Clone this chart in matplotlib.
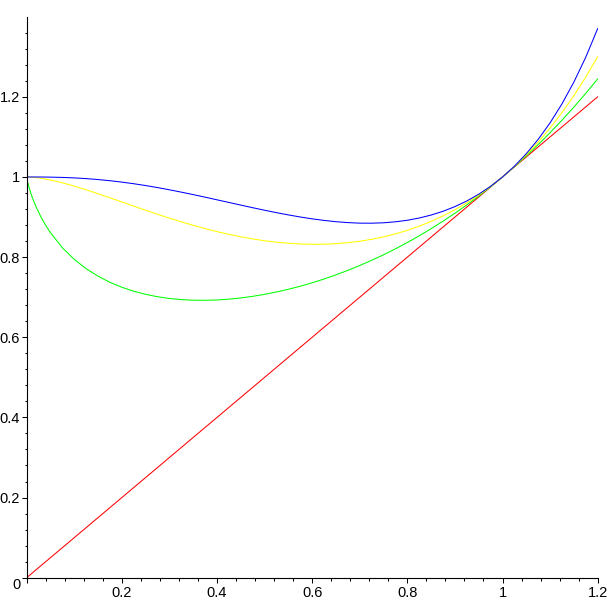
import matplotlib
matplotlib.use("Agg")
import matplotlib.pyplot as plt
from matplotlib.ticker import MultipleLocator, FixedLocator
import matplotlib.transforms as mtransforms

# sample positions
x_vals = [0.0, 0.001, 0.003, 0.005, 0.0075, 0.01, 0.015, 0.02, 0.03, 0.04, 0.05, 0.075,
          0.1, 0.125, 0.15, 0.175, 0.2, 0.225, 0.25, 0.275, 0.3, 0.325, 0.35, 0.375,
          0.4, 0.425, 0.45, 0.475, 0.5, 0.525, 0.55, 0.575, 0.6, 0.625, 0.65, 0.675,
          0.7, 0.725, 0.75, 0.775, 0.8, 0.825, 0.85, 0.875, 0.9, 0.925, 0.95, 0.975,
          1.0, 1.025, 1.05, 1.075, 1.1, 1.125, 1.15, 1.175, 1.2]
# red line (y = x)
red_y = list(x_vals)
# green curve
green_y = [1.0, 0.99312, 0.98272, 0.97386, 0.96397, 0.9550, 0.93895, 0.9247, 0.9001,
           0.87919, 0.8609, 0.82343, 0.7943, 0.77107, 0.7524, 0.73710, 0.7248, 0.71488,
           0.7071, 0.70116, 0.6968, 0.69401, 0.6925, 0.69225, 0.6931, 0.69513, 0.6981,
           0.70215, 0.7071, 0.71299, 0.7198, 0.72746, 0.7360, 0.74546, 0.7558, 0.76698,
           0.7791, 0.79204, 0.8059, 0.82074, 0.8365, 0.85325, 0.8710, 0.88973, 0.9095,
           0.93042, 0.9524, 0.97562, 1.0, 1.02563, 1.0526, 1.08085, 1.1105, 1.14168,
           1.1744, 1.20863, 1.2446]
# yellow curve
yellow_y = [1.0, 0.99999, 0.99995, 0.99987, 0.99972, 0.9995, 0.99906, 0.9984, 0.9968,
            0.99486, 0.9925, 0.98554, 0.9772, 0.96803, 0.9582, 0.94802, 0.9377, 0.92726,
            0.9170, 0.90698, 0.8973, 0.88806, 0.8793, 0.87116, 0.8636, 0.85680, 0.8507,
            0.84538, 0.8409, 0.83727, 0.8346, 0.83280, 0.8320, 0.83227, 0.8336, 0.83604,
            0.8396, 0.84448, 0.8506, 0.85805, 0.8669, 0.87728, 0.8892, 0.90282, 0.9182,
            0.93547, 0.9548, 0.97622, 1.0, 1.02628, 1.0553, 1.08717, 1.1222, 1.16075,
            1.2030, 1.24941, 1.3002]
# blue curve
blue_y = [1.0, 1.0, 1.0, 1.0, 1.0, 1.0, 0.99999, 0.99997, 0.99991, 0.99979, 0.9996,
          0.99891, 0.9977, 0.99595, 0.9936, 0.99070, 0.9872, 0.98315, 0.9786, 0.97351,
          0.9680, 0.96215, 0.9560, 0.94959, 0.9430, 0.93643, 0.9298, 0.92331, 0.9170,
          0.91097, 0.9053, 0.90014, 0.8955, 0.89159, 0.8884, 0.88614, 0.8848, 0.88466,
          0.8857, 0.88812, 0.8920, 0.89761, 0.9050, 0.91443, 0.9261, 0.94016, 0.9570,
          0.97681, 1.0, 1.02695, 1.0581, 1.09400, 1.1352, 1.18258, 1.2369, 1.29902,
          1.3703]

tick_vals = [0.2, 0.4, 0.6, 0.8, 1.0, 1.2]
tick_labels = ["0.2", "0.4", "0.6", "0.8", "1", "1.2"]

plt.rcParams['font.family'] = ['Liberation Sans', 'DejaVu Sans']

fig = plt.figure(figsize=(6.11, 6.11), dpi=100)
ax = fig.add_axes([0.0437, 0.0545, 0.9345, 0.9172])

lw = 0.75
ax.plot(x_vals, red_y, color=(1, 0, 0), lw=lw)
ax.plot(x_vals, green_y, color=(0, 1, 0), lw=lw)
ax.plot(x_vals, yellow_y, color=(1, 1, 0), lw=lw)
ax.plot(x_vals, blue_y, color=(0, 0, 1), lw=lw)

ax.set_xlim(0, 1.2)
ax.set_ylim(0, 1.3985)

for s in ['top', 'right']:
    ax.spines[s].set_visible(False)
for s in ['left', 'bottom']:
    ax.spines[s].set_linewidth(0.8)
    ax.spines[s].set_color('black')

ax.xaxis.set_major_locator(FixedLocator([0.0] + tick_vals))
ax.set_xticklabels([""] + tick_labels)
ax.yaxis.set_major_locator(FixedLocator([0.0] + tick_vals))
ax.set_yticklabels([""] + tick_labels)
ax.xaxis.set_minor_locator(MultipleLocator(0.04))
ax.yaxis.set_minor_locator(MultipleLocator(0.04))

ax.tick_params(which='major', length=3.8, width=0.75, direction='out', labelsize=10.5)
ax.tick_params(which='minor', length=1.8, width=0.75, direction='out')
ax.tick_params(axis='x', which='major', pad=2.2)
ax.tick_params(axis='y', which='major', pad=1.2)

off = mtransforms.offset_copy(ax.transData, fig=fig, x=-6.5, y=-0.5, units='dots')
ax.text(0, 0, "0", transform=off, ha='right', va='top', fontsize=10.5)

fig.savefig("out.png", dpi=100)
